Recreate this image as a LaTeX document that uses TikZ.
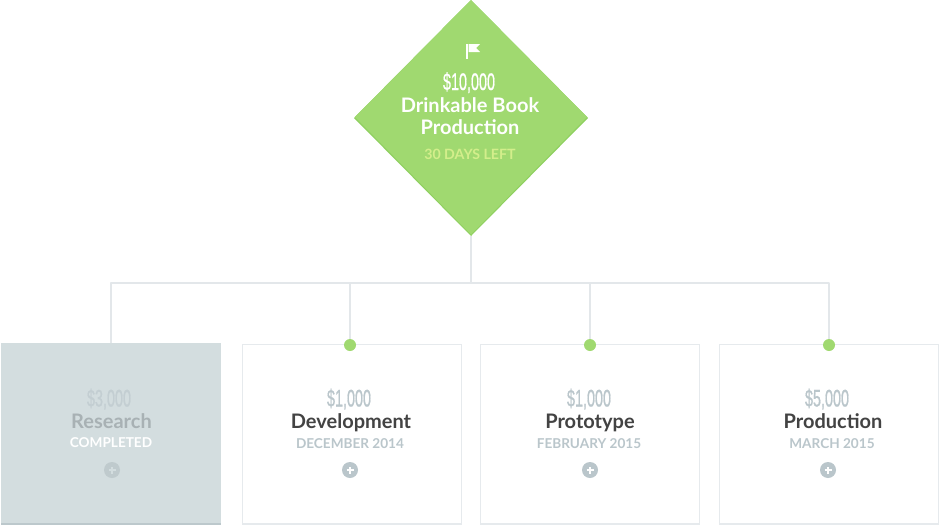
\documentclass[tikz,border=0pt]{standalone}
\usepackage{fontspec}
\setmainfont{Lato}
\newfontfamily\moneyfont[FakeStretch=0.6,FakeBold=0.6]{Liberation Sans}
\definecolor{goalgreen}{HTML}{A0D970}
\definecolor{goaledge}{HTML}{8FD060}
\definecolor{daysgreen}{HTML}{D3EE8B}
\definecolor{linegrey}{HTML}{E3E7EA}
\definecolor{cardedge}{HTML}{E6EAED}
\definecolor{donefill}{HTML}{D3DDDF}
\definecolor{doneedge}{HTML}{BCC8CC}
\definecolor{softgrey}{HTML}{BAC6CB}
\definecolor{darktext}{HTML}{434343}
\definecolor{donetitle}{HTML}{A8B1B4}
\definecolor{doneamount}{HTML}{C3CED2}
\definecolor{doneplus}{HTML}{BFCACD}
\tikzset{
  link/.style={draw=linegrey,line width=2pt},
  amount/.style={inner sep=0pt,anchor=base,font=\moneyfont\fontsize{24}{24}\selectfont},
  title/.style={inner sep=0pt,anchor=base,font=\fontsize{20}{20}\bfseries\selectfont},
  sub/.style={inner sep=0pt,anchor=base,font=\fontsize{13.6}{13.6}\bfseries\selectfont},
  card/.style={draw=cardedge,line width=1pt,fill=white,minimum width=219pt,minimum height=180pt,inner sep=0pt,anchor=north west},
  donecard/.style={card,draw=donefill,fill=donefill},
  dot/.style={circle,fill=goalgreen,minimum size=12pt,inner sep=0pt},
  plusdisc/.style={circle,fill=softgrey,minimum size=16pt,inner sep=0pt},
}
\begin{document}
\begin{tikzpicture}[x=1pt,y=-1pt]
\useasboundingbox (0,0) rectangle (940,525);
% connector skeleton
\coordinate (bus0) at (111,283);
\coordinate (bus1) at (350,283);
\coordinate (bus2) at (590,283);
\coordinate (bus3) at (829,283);
\coordinate (busmid) at (471,283);
\coordinate (goalbottom) at (471,236);
\coordinate (goaltop) at (471,0);
\coordinate (goalleft) at (354,118);
\coordinate (goalright) at (588,118);
% cards
\node[donecard] (c0) at (1,343) {};
\node[card] (c1) at (242,344) {};
\node[card] (c2) at (480,344) {};
\node[card] (c3) at (719,344) {};
\fill[doneedge] (1,522.5) rectangle (221,525);
\fill[cardedge] (242,522.5) rectangle (462,525);
\fill[cardedge] (480,522.5) rectangle (700,525);
\fill[cardedge] (719,522.5) rectangle (939,525);
% links
\draw[link] (goalbottom) -- (busmid);
\draw[link,line join=round] (c0.north -| bus0) -- (bus0) -- (bus3) -- (829,345);
\draw[link] (bus1) -- (350,345);
\draw[link] (bus2) -- (590,345);
% goal diamond
\fill[goaledge] (goaltop) -- (goalright) -- (goalbottom) -- (goalleft) -- cycle;
\fill[goalgreen] (471,0) -- (587,117) -- (471,234.5) -- (355,117) -- cycle;
% flag
\fill[white] (466,44) rectangle (467.5,59);
\fill[white] (468.5,44) -- (480,44) -- (476,48) -- (480,52) -- (468.5,52) -- cycle;
\node[amount,text=white] (goalamount) at (469,90) {\$10,000};
\node[title,text=white] (goaltitle) at (470,112.5) {Drinkable Book};
\node[title,text=white] (goaltitleb) at (470,134.5) {Production};
\node[sub,text=daysgreen,font=\fontsize{14.2}{14.2}\bfseries\selectfont] (goaldays) at (470,159) {30 DAYS LEFT};
% dots
\node[dot] (d1) at (350,345) {};
\node[dot] (d2) at (590,345) {};
\node[dot] (d3) at (829,345) {};
% card 0
\node[amount,text=doneamount] (a0) at (109,406.5) {\$3,000};
\node[title,text=donetitle] (t0) at (111.5,428) {Research};
\node[sub,text=white] (s0) at (111,447) {COMPLETED};
\node[plusdisc,fill=doneplus] (p0) at (112,470) {};
% card 1
\node[amount,text=softgrey] (a1) at (349,406.5) {\$1,000};
\node[title,text=darktext] (t1) at (351,428) {Development};
\node[sub,text=softgrey] (s1) at (350,448) {DECEMBER 2014};
\node[plusdisc] (p1) at (350,470) {};
% card 2
\node[amount,text=softgrey] (a2) at (589,406.5) {\$1,000};
\node[title,text=darktext] (t2) at (590,428) {Prototype};
\node[sub,text=softgrey] (s2) at (589,448) {FEBRUARY 2015};
\node[plusdisc] (p2) at (590,470) {};
% card 3
\node[amount,text=softgrey] (a3) at (827,406.5) {\$5,000};
\node[title,text=darktext] (t3) at (833,428) {Production};
\node[sub,text=softgrey] (s3) at (832,448) {MARCH 2015};
\node[plusdisc] (p3) at (828,470) {};
% plus marks
\foreach \n/\c in {p0/donefill,p1/white,p2/white,p3/white}{
  \draw[\c,line width=1.8pt] ([xshift=-3.5pt]\n.center) -- ([xshift=3.5pt]\n.center);
  \draw[\c,line width=1.8pt] ([yshift=-3.5pt]\n.center) -- ([yshift=3.5pt]\n.center);
}
\end{tikzpicture}
\end{document}
